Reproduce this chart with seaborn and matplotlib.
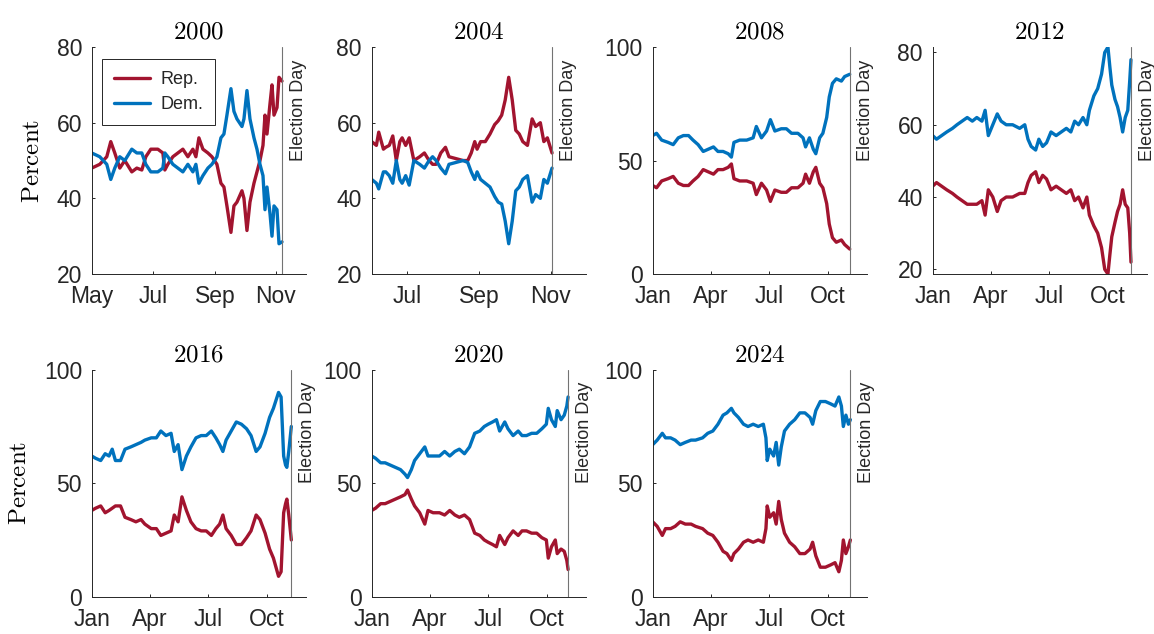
import numpy as np
import pandas as pd
import matplotlib
matplotlib.use("Agg")
import matplotlib.pyplot as plt
import matplotlib.dates as mdates
import seaborn as sns

# Prediction market prices (percent), one pair of series per election
years = [2000, 2004, 2008, 2012, 2016, 2020, 2024]
election_days = ["2000-11-07", "2004-11-02", "2008-11-04", "2012-11-06",
                 "2016-11-08", "2020-11-03", "2024-11-05"]

dates_2000 = ["05-01", "05-09", "05-16", "05-20", "05-24", "05-29", "06-03", "06-10", "06-15", "06-20",
              "06-24", "06-29", "07-06", "07-11", "07-13", "07-16", "07-21", "07-26", "07-31", "08-05",
              "08-10", "08-13", "08-16", "08-20", "08-25", "08-29", "09-03", "09-07", "09-10", "09-13",
              "09-17", "09-20", "09-23", "09-28", "09-30", "10-03", "10-06", "10-10", "10-13", "10-16",
              "10-19", "10-21", "10-23", "10-26", "10-28", "10-30", "11-02", "11-04", "11-07"]
rep_2000 = [48, 49, 51, 55, 52, 48, 50, 47, 48, 47.5, 51, 53, 53, 52, 47.5, 49, 51, 52, 53, 51,
            53, 51, 56, 53, 52, 51, 49, 44, 43, 38, 31, 38, 39, 42, 40, 31.5, 39, 44, 47, 50,
            54, 62, 57, 65, 70, 62, 64, 72, 71]
dem_2000 = [52, 51, 49, 45, 48, 51, 50, 53, 52, 52, 49, 47, 47, 48, 52, 51, 49, 48, 47, 49,
            47, 49, 44, 46, 48, 49, 51, 56, 57, 62, 69, 63, 61, 59, 61, 68.5, 61, 56, 53, 49,
            46, 37, 43, 36, 30, 38, 37, 28, 28.5]

dates_2004 = ["06-01", "06-05", "06-07", "06-11", "06-13", "06-16", "06-19", "06-22", "06-25", "06-27",
              "06-30", "07-03", "07-07", "07-12", "07-16", "07-20", "07-23", "07-26", "07-30", "08-03",
              "08-06", "08-12", "08-18", "08-22", "08-25", "08-28", "08-30", "09-02", "09-06", "09-10",
              "09-14", "09-17", "09-20", "09-23", "09-26", "09-29", "10-02", "10-05", "10-08", "10-12",
              "10-16", "10-19", "10-23", "10-26", "10-29", "11-02"]
rep_2004 = [55, 54, 57.5, 53, 53.5, 54, 56.5, 50, 55, 56, 54, 56, 50, 51, 52, 50, 49, 49, 52, 53.5,
            51, 50.5, 50, 50, 52, 55, 53, 55, 55, 57, 59.5, 60.5, 62, 66, 72, 66, 58, 57, 55, 54,
            61, 59, 60, 55, 56, 52]
dem_2004 = [45, 44, 42.5, 47, 47, 46, 44, 50, 45, 44, 46, 43.5, 50, 49, 48, 50, 51, 50, 48, 46.5,
            49, 49.5, 50, 49.5, 47, 45, 47, 45, 44, 43, 40.5, 39, 38.5, 34, 28, 34, 42, 43, 45, 46,
            39, 41, 40, 45, 44, 48]

dates_2008 = ["01-01", "01-07", "01-15", "01-25", "02-02", "02-10", "02-18", "02-26", "03-04", "03-12",
              "03-20", "03-28", "04-05", "04-12", "04-20", "04-28", "05-03", "05-07", "05-16", "05-27",
              "06-06", "06-11", "06-19", "06-27", "07-03", "07-10", "07-20", "07-28", "08-05", "08-15",
              "08-23", "08-27", "09-02", "09-08", "09-12", "09-18", "09-23", "09-29", "10-03", "10-08",
              "10-14", "10-22", "10-27", "11-04"]
rep_2008 = [39, 38, 41, 42, 43, 40, 39, 39, 41, 43, 46, 45, 44, 46, 46, 47, 48.5, 42, 41, 41,
            40, 35, 40, 37, 32, 37, 36, 36, 38, 38, 40, 44, 40, 45, 47, 40, 38, 31, 22, 16,
            14, 15, 13, 11]
dem_2008 = [61, 62, 59, 58, 57, 60, 61, 61, 59, 57, 54, 55, 56, 54, 54, 53, 51.5, 58, 59, 59,
            60, 65, 60, 63, 68, 63, 64, 64, 62, 62, 60, 56, 60, 55, 53, 60, 62, 69, 78, 84,
            86, 85, 87, 88]

dates_2012 = ["01-01", "01-07", "01-15", "01-23", "02-01", "02-08", "02-16", "02-24", "03-03", "03-10",
              "03-18", "03-23", "03-28", "04-04", "04-11", "04-17", "04-25", "05-05", "05-16", "05-24",
              "05-29", "06-03", "06-10", "06-15", "06-21", "06-27", "07-04", "07-12", "07-20", "07-28",
              "08-04", "08-10", "08-16", "08-23", "08-29", "09-02", "09-09", "09-15", "09-21", "09-26",
              "10-01", "10-04", "10-07", "10-12", "10-16", "10-20", "10-24", "10-28", "11-01", "11-04",
              "11-06"]
rep_2012 = [43, 44, 43, 42, 41, 40, 39, 38, 38, 38, 39, 35, 42, 40, 36, 39, 40, 40, 41, 41,
            44, 46, 47, 44, 46, 45, 42, 43, 42, 41, 42, 39, 40, 37, 40, 35, 32, 30, 26, 20,
            18.7, 24, 29, 33, 36, 38, 42, 38, 37, 30, 22]
dem_2012 = [57, 56, 57, 58, 59, 60, 61, 62, 61, 62, 61, 64, 57, 60, 63, 61, 60, 60, 59, 60,
            56, 54, 53, 56, 54, 55, 58, 57, 58, 59, 58, 61, 60, 62, 60, 64, 68, 70, 74, 80,
            81.5, 76, 71, 67, 65, 62, 58, 62, 64, 72, 78]

dates_2016 = ["01-01", "01-07", "01-15", "01-22", "01-28", "02-02", "02-07", "02-15", "02-22", "03-02",
              "03-10", "03-18", "03-24", "04-03", "04-11", "04-18", "04-26", "05-04", "05-09", "05-15",
              "05-21", "05-28", "06-04", "06-12", "06-20", "06-28", "07-06", "07-13", "07-19", "07-24",
              "07-29", "08-06", "08-14", "08-22", "08-30", "09-06", "09-14", "09-20", "09-28", "10-05",
              "10-11", "10-19", "10-23", "10-27", "10-30", "11-01", "11-04", "11-08"]
rep_2016 = [38, 39, 40, 37, 38, 39, 40, 40, 35, 34, 33, 34, 32, 30, 30, 27, 28, 29, 36, 33,
            44, 38, 33, 30, 29, 29, 27, 30, 32, 36, 30, 27, 23, 23, 26, 29, 36, 34, 28, 21,
            17, 9, 11, 37, 41, 43, 36, 25]
dem_2016 = [62, 61, 60, 63, 62, 65, 60, 60, 65, 66, 67, 68, 69, 70, 70, 73, 71, 72, 64, 67,
            56, 62, 66, 70, 71, 71, 73, 70, 67, 64, 69, 73, 77, 76, 74, 71, 64, 66, 72, 79,
            83, 90, 88, 62, 58, 57, 64, 75]

dates_2020 = ["01-01", "01-07", "01-15", "01-22", "01-30", "02-07", "02-15", "02-22", "02-26", "03-03",
              "03-08", "03-16", "03-24", "03-29", "04-06", "04-16", "04-24", "05-02", "05-10", "05-17",
              "05-25", "06-02", "06-10", "06-18", "06-25", "07-01", "07-08", "07-14", "07-19", "07-27",
              "08-01", "08-09", "08-17", "08-23", "08-30", "09-07", "09-15", "09-23", "09-30", "10-03",
              "10-08", "10-14", "10-17", "10-23", "10-28", "11-01", "11-03"]
rep_2020 = [38, 39, 41, 41, 42, 43, 44, 45, 47, 43, 40, 37, 32, 38, 37, 37, 36, 38, 36, 35,
            36, 34, 28, 27, 25, 24, 23, 22, 27, 23, 26, 29, 27, 29, 29, 28, 28, 26, 25, 17,
            22, 25, 19, 21, 20, 16, 12]
dem_2020 = [62, 61, 59, 59, 58, 57, 56, 54, 52.5, 56, 60, 63, 66, 62, 62, 62, 64, 62, 64, 65,
            63, 66, 72, 73, 75, 76, 77, 78, 73, 77, 74, 71, 73, 71, 71, 72, 72, 74, 76, 83,
            78, 75, 82, 78, 80, 84, 88]

dates_2024 = ["01-01", "01-08", "01-16", "01-21", "01-29", "02-05", "02-13", "02-21", "03-01", "03-08",
              "03-19", "03-27", "04-04", "04-12", "04-20", "04-26", "05-03", "05-07", "05-14", "05-22",
              "05-29", "06-06", "06-14", "06-22", "06-26", "06-28", "07-02", "07-08", "07-12", "07-16",
              "07-20", "07-25", "08-02", "08-10", "08-18", "08-26", "09-03", "09-07", "09-12", "09-19",
              "09-27", "10-05", "10-12", "10-18", "10-22", "10-25", "10-29", "11-02", "11-05"]
rep_2024 = [33, 31, 27, 30, 30, 31, 33, 32, 32, 31, 30, 28, 27, 24, 20, 19, 16, 19, 21, 24,
            25, 24, 25, 24, 30, 40, 35, 37, 32, 42, 34, 28, 24, 22, 19, 19, 21, 24, 18, 13,
            13, 14, 15, 11, 16, 25, 19, 22, 25]
dem_2024 = [67, 69, 72, 70, 70, 69, 67, 68, 69, 69, 70, 72, 73, 76, 80, 81, 83, 81, 79, 76,
            75, 76, 75, 76, 70, 60, 65, 62, 68, 58, 66, 73, 76, 78, 81, 81, 79, 76, 82, 86,
            86, 85, 84, 88, 84, 75, 80, 76, 78]

series = {
    2000: (dates_2000, rep_2000, dem_2000),
    2004: (dates_2004, rep_2004, dem_2004),
    2008: (dates_2008, rep_2008, dem_2008),
    2012: (dates_2012, rep_2012, dem_2012),
    2016: (dates_2016, rep_2016, dem_2016),
    2020: (dates_2020, rep_2020, dem_2020),
    2024: (dates_2024, rep_2024, dem_2024),
}

# axis settings per year
x_start = {2000: "05-01", 2004: "06-01"}
tick_months = {2000: [5, 7, 9, 11], 2004: [7, 9, 11]}
y_range = {2000: (20, 80), 2004: (20, 80), 2012: None}
y_ticks = {2000: [20, 40, 60, 80], 2004: [20, 40, 60, 80], 2012: [20, 40, 60, 80]}

REP_COLOR = "#A2142F"
DEM_COLOR = "#0072BD"
DARK = "#262626"

sns.set_theme(style="ticks")
plt.rcParams.update({
    "font.family": ["Liberation Sans", "DejaVu Sans"],
    "mathtext.fontset": "cm",
    "xtick.direction": "in",
    "ytick.direction": "in",
    "xtick.major.size": 2.5,
    "ytick.major.size": 2.5,
    "xtick.major.width": 0.7,
    "ytick.major.width": 0.7,
    "axes.linewidth": 0.7,
    "axes.edgecolor": DARK,
    "xtick.color": DARK,
    "ytick.color": DARK,
    "xtick.labelsize": 16.5,
    "ytick.labelsize": 16.5,
    "xtick.major.pad": 8,
    "ytick.major.pad": 7,
})

fig = plt.figure(figsize=(11.54, 6.34), dpi=100)
col_lefts = [0.0795, 0.3221, 0.5656, 0.8082]
row_bottoms = [0.5678, 0.0588]
ax_w, ax_h = 0.1857, 0.358

for i, year in enumerate(years):
    row, col = divmod(i, 4)
    ax = fig.add_axes([col_lefts[col], row_bottoms[row], ax_w, ax_h])

    d, rep, dem = series[year]
    dt = pd.to_datetime([f"{year}-{s}" for s in d])
    df = pd.DataFrame({
        "date": np.concatenate([dt, dt]),
        "pct": rep + dem,
        "party": ["Rep."] * len(rep) + ["Dem."] * len(dem),
    })
    sns.lineplot(data=df, x="date", y="pct", hue="party", hue_order=["Rep.", "Dem."],
                 palette={"Rep.": REP_COLOR, "Dem.": DEM_COLOR}, linewidth=2.4,
                 estimator=None, legend=False, ax=ax)
    party_lines = ax.get_lines()[:2]

    eday = pd.Timestamp(election_days[i])
    ax.axvline(eday, color="0.45", lw=0.8)
    ax.annotate("Election Day", xy=(eday, 1), xycoords=("data", "axes fraction"),
                xytext=(5.5, -9), textcoords="offset points", rotation=90,
                ha="left", va="top", fontsize=13, color=DARK)

    ax.set_xlim(pd.Timestamp(f"{year}-{x_start.get(year, '01-01')}"), pd.Timestamp(f"{year}-12-01"))
    ax.xaxis.set_major_locator(mdates.MonthLocator(bymonth=tick_months.get(year, [1, 4, 7, 10])))
    ax.xaxis.set_major_formatter(mdates.DateFormatter("%b"))

    if year in y_range and y_range[year] is None:
        vals = rep + dem
        ax.set_ylim(min(vals), max(vals))
    else:
        ax.set_ylim(*y_range.get(year, (0, 100)))
    ax.set_yticks(y_ticks.get(year, [0, 50, 100]))

    sns.despine(ax=ax)
    ax.set_xlabel("")
    ax.set_ylabel("")
    ax.set_title(r"$\mathrm{%d}$" % year, fontsize=18, pad=6, color="black")
    if col == 0:
        ax.set_ylabel(r"$\mathrm{Percent}$", fontsize=18, labelpad=9, color="black")

    if i == 0:
        leg = ax.legend(party_lines, ["Rep.", "Dem."], loc="upper left",
                        bbox_to_anchor=(0.047, 0.946), borderaxespad=0, fontsize=13,
                        frameon=True, fancybox=False, edgecolor=DARK, framealpha=1,
                        handlelength=2.0, handletextpad=0.6, borderpad=0.65, labelspacing=0.45)
        leg.get_frame().set_linewidth(0.7)

fig.savefig("out.png", dpi=100)
